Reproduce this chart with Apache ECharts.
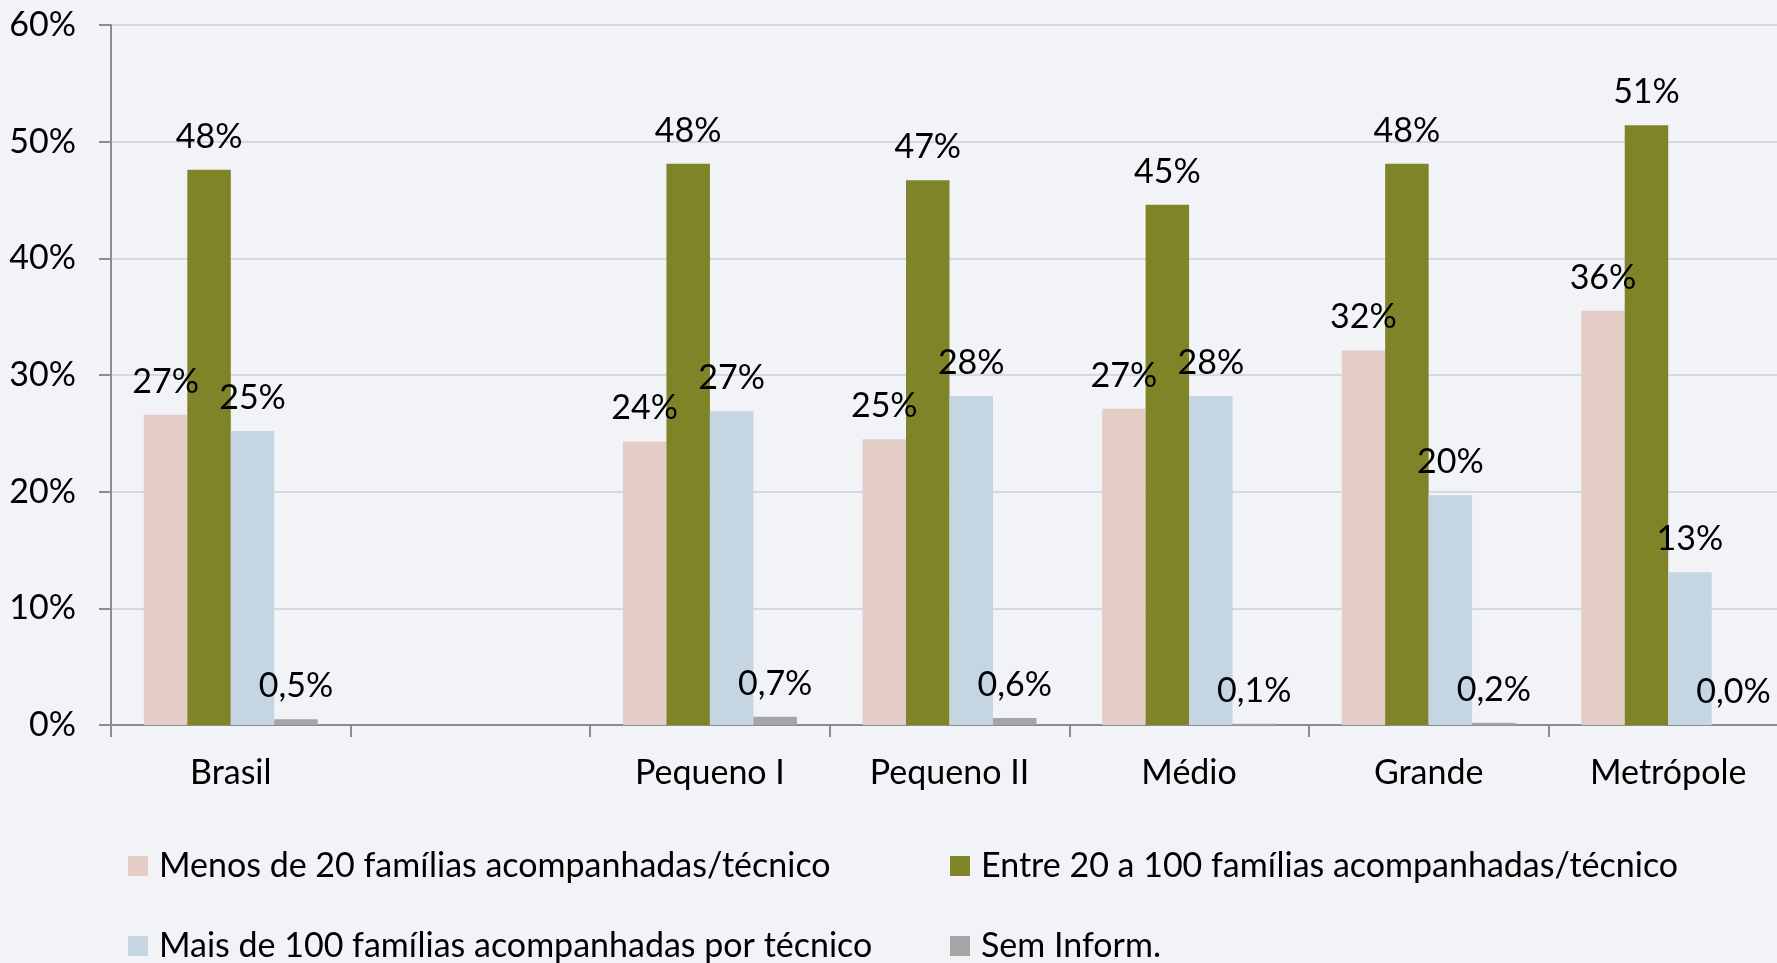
<!DOCTYPE html>
<html>
<head>
<meta charset="utf-8">
<title>Famílias acompanhadas por técnico</title>
<script src="https://cdn.jsdelivr.net/npm/echarts@6/dist/echarts.min.js"></script>
<style>
    html, body { margin: 0; padding: 0; background: #f2f3f7; }
    #chart { width: 1777px; height: 963px; }
</style>
</head>
<body>
<div id="chart"></div>
<script>
// categorias (a segunda fica vazia, como no original)
var categories = ['Brasil', '', 'Pequeno I', 'Pequeno II', 'Médio', 'Grande', 'Metrópole'];

// valores em %
var menos20 = [26.6, null, 24.3, 24.5, 27.1, 32.1, 35.5];
var entre20e100 = [47.6, null, 48.1, 46.7, 44.6, 48.1, 51.4];
var mais100 = [25.2, null, 26.9, 28.2, 28.2, 19.7, 13.1];
var semInform = [0.5, null, 0.7, 0.6, 0.1, 0.2, 0.0];

var yTicks = [0, 10, 20, 30, 40, 50, 60];

var seriesNames = [
    'Menos de 20 famílias acompanhadas/técnico',
    'Entre 20 a 100 famílias acompanhadas/técnico',
    'Mais de 100 famílias acompanhadas por técnico',
    'Sem Inform.'
];
var colors = ['#e3cdc6', '#7f8428', '#c5d5e1', '#a5a5a5'];

var font = 'Lato';
var fontSize = 34;

function intLabel(p) {
    return Math.round(p.value) + '%';
}
function decLabel(p) {
    return p.value.toFixed(1).replace('.', ',') + '%';
}

function makeSeries(name, data, color, formatter) {
    return {
        name: name,
        type: 'bar',
        data: data,
        barGap: '0%',
        barCategoryGap: '27.4%',
        itemStyle: { color: color },
        label: {
            show: true,
            position: 'top',
            distance: 16,
            color: '#000',
            fontFamily: font,
            fontSize: fontSize,
            formatter: formatter
        }
    };
}

// uma legenda por item, para montar a grade 2x2
function makeLegend(name, left, top) {
    return {
        left: left,
        top: top,
        padding: 0,
        itemWidth: 20,
        itemHeight: 20,
        icon: 'rect',
        textStyle: { color: '#000', fontFamily: font, fontSize: fontSize, padding: [0, 0, 0, 6] },
        data: [name]
    };
}

function getOption() {
    return {
        backgroundColor: '#f2f3f7',
        animation: false,
        grid: {
            left: 111,
            right: -11,
            top: 25,
            bottom: 238,
            outerBoundsMode: 'none'
        },
        legend: [
            makeLegend(seriesNames[0], 128, 849),
            makeLegend(seriesNames[1], 950, 849),
            makeLegend(seriesNames[2], 128, 929),
            makeLegend(seriesNames[3], 950, 929)
        ],
        xAxis: {
            type: 'category',
            data: categories,
            axisLine: { lineStyle: { color: '#8c8c8c', width: 2 } },
            axisTick: { show: true, length: 12, lineStyle: { color: '#8c8c8c', width: 2 } },
            axisLabel: {
                color: '#000',
                fontFamily: font,
                fontSize: fontSize,
                margin: 31
            }
        },
        yAxis: {
            type: 'value',
            min: yTicks[0],
            max: yTicks[yTicks.length - 1],
            interval: yTicks[1] - yTicks[0],
            axisLine: { show: true, lineStyle: { color: '#8c8c8c', width: 2 } },
            axisTick: { show: true, length: 12, lineStyle: { color: '#8c8c8c', width: 2 } },
            splitLine: { lineStyle: { color: '#d6d7e4', width: 2 } },
            axisLabel: {
                color: '#000',
                fontFamily: font,
                fontSize: fontSize,
                margin: 35,
                formatter: '{value}%'
            }
        },
        series: [
            makeSeries(seriesNames[0], menos20, colors[0], intLabel),
            makeSeries(seriesNames[1], entre20e100, colors[1], intLabel),
            makeSeries(seriesNames[2], mais100, colors[2], intLabel),
            makeSeries(seriesNames[3], semInform, colors[3], decLabel)
        ]
    };
}

var myChart = echarts.init(document.getElementById('chart'));
myChart.setOption(getOption());
</script>
</body>
</html>
